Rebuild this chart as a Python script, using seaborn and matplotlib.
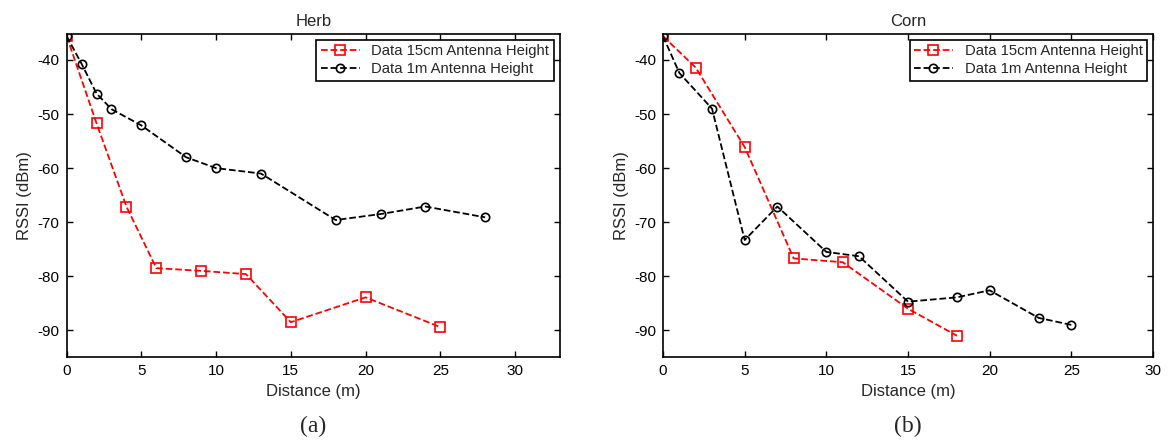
import pandas as pd
import numpy as np
import matplotlib
matplotlib.use("Agg")
import matplotlib.pyplot as plt
import seaborn as sns

# Herb field
herb_15cm_x = [0, 2, 4, 6, 9, 12, 15, 20, 25]
herb_15cm_y = [-35.6, -51.7, -67.1, -78.5, -79.0, -79.6, -88.5, -83.9, -89.4]
herb_1m_x = [0, 1, 2, 3, 5, 8, 10, 13, 18, 21, 24, 28]
herb_1m_y = [-35.6, -40.7, -46.2, -49.1, -52.1, -58.0, -60.0, -61.0, -69.6, -68.5, -67.1, -69.1]

# Corn field
corn_15cm_x = [0, 2, 5, 8, 11, 15, 18]
corn_15cm_y = [-35.6, -41.4, -56.1, -76.7, -77.4, -86.0, -91.0]
corn_1m_x = [0, 1, 3, 5, 7, 10, 12, 15, 18, 20, 23, 25]
corn_1m_y = [-35.6, -42.4, -49.0, -73.3, -67.1, -75.5, -76.3, -84.7, -83.9, -82.6, -87.7, -89.0]

labels = ["Data 15cm Antenna Height", "Data 1m Antenna Height"]
x_ticks = [0, 5, 10, 15, 20, 25, 30]
y_ticks = [-90, -80, -70, -60, -50, -40]

sns.set_theme(style="ticks", rc={
    "xtick.direction": "in", "ytick.direction": "in",
    "xtick.top": True, "ytick.right": True,
    "axes.linewidth": 1.2, "axes.edgecolor": "black",
    "xtick.color": "black", "ytick.color": "black",
    "xtick.major.size": 4.5, "ytick.major.size": 4.5,
    "xtick.major.width": 1.0, "ytick.major.width": 1.0,
    "axes.unicode_minus": False,
})
plt.rcParams["font.family"] = ["Liberation Sans", "DejaVu Sans"]

fig = plt.figure(figsize=(11.71, 4.42), dpi=100)
ax1 = fig.add_axes([0.0569, 0.1915, 0.4212, 0.7315])
ax2 = fig.add_axes([0.5662, 0.1915, 0.4184, 0.7315])

panels = [
    (ax1, "Herb", "(a)", herb_15cm_x, herb_15cm_y, herb_1m_x, herb_1m_y, 33),
    (ax2, "Corn", "(b)", corn_15cm_x, corn_15cm_y, corn_1m_x, corn_1m_y, 30),
]

for ax, title, tag, x1, y1, x2, y2, xmax in panels:
    d1 = pd.DataFrame({"x": x1, "y": y1})
    d2 = pd.DataFrame({"x": x2, "y": y2})
    sns.lineplot(data=d1, x="x", y="y", ax=ax, color="red", linestyle="--",
                 marker="s", markersize=6.5, mfc="none", mec="red", mew=1.2,
                 lw=1.3, label=labels[0], sort=False)
    sns.lineplot(data=d2, x="x", y="y", ax=ax, color="black", linestyle="--",
                 marker="o", markersize=6, mfc="none", mec="black", mew=1.2,
                 lw=1.3, label=labels[1], sort=False)
    ax.set_xlim(0, xmax)
    ax.set_ylim(-95, -35.2)
    ax.set_xticks(x_ticks)
    ax.set_yticks(y_ticks)
    ax.tick_params(labelsize=11, pad=5)
    ax.set_title(title, fontsize=12, pad=6)
    ax.set_xlabel("Distance (m)", fontsize=12, labelpad=4)
    ax.set_ylabel("RSSI (dBm)", fontsize=12, labelpad=4)
    leg = ax.legend(loc="upper right", fontsize=10.7, fancybox=False,
                    framealpha=1, edgecolor="black", borderaxespad=0.4,
                    handlelength=2.6, borderpad=0.3, labelspacing=0.25)
    leg.get_frame().set_linewidth(1.2)
    pos = ax.get_position()
    fig.text(pos.x0 + pos.width / 2, 0.036, tag, ha="center", va="center",
             fontsize=17, family=["Liberation Serif", "DejaVu Serif"])

fig.savefig("out.png", dpi=100)
